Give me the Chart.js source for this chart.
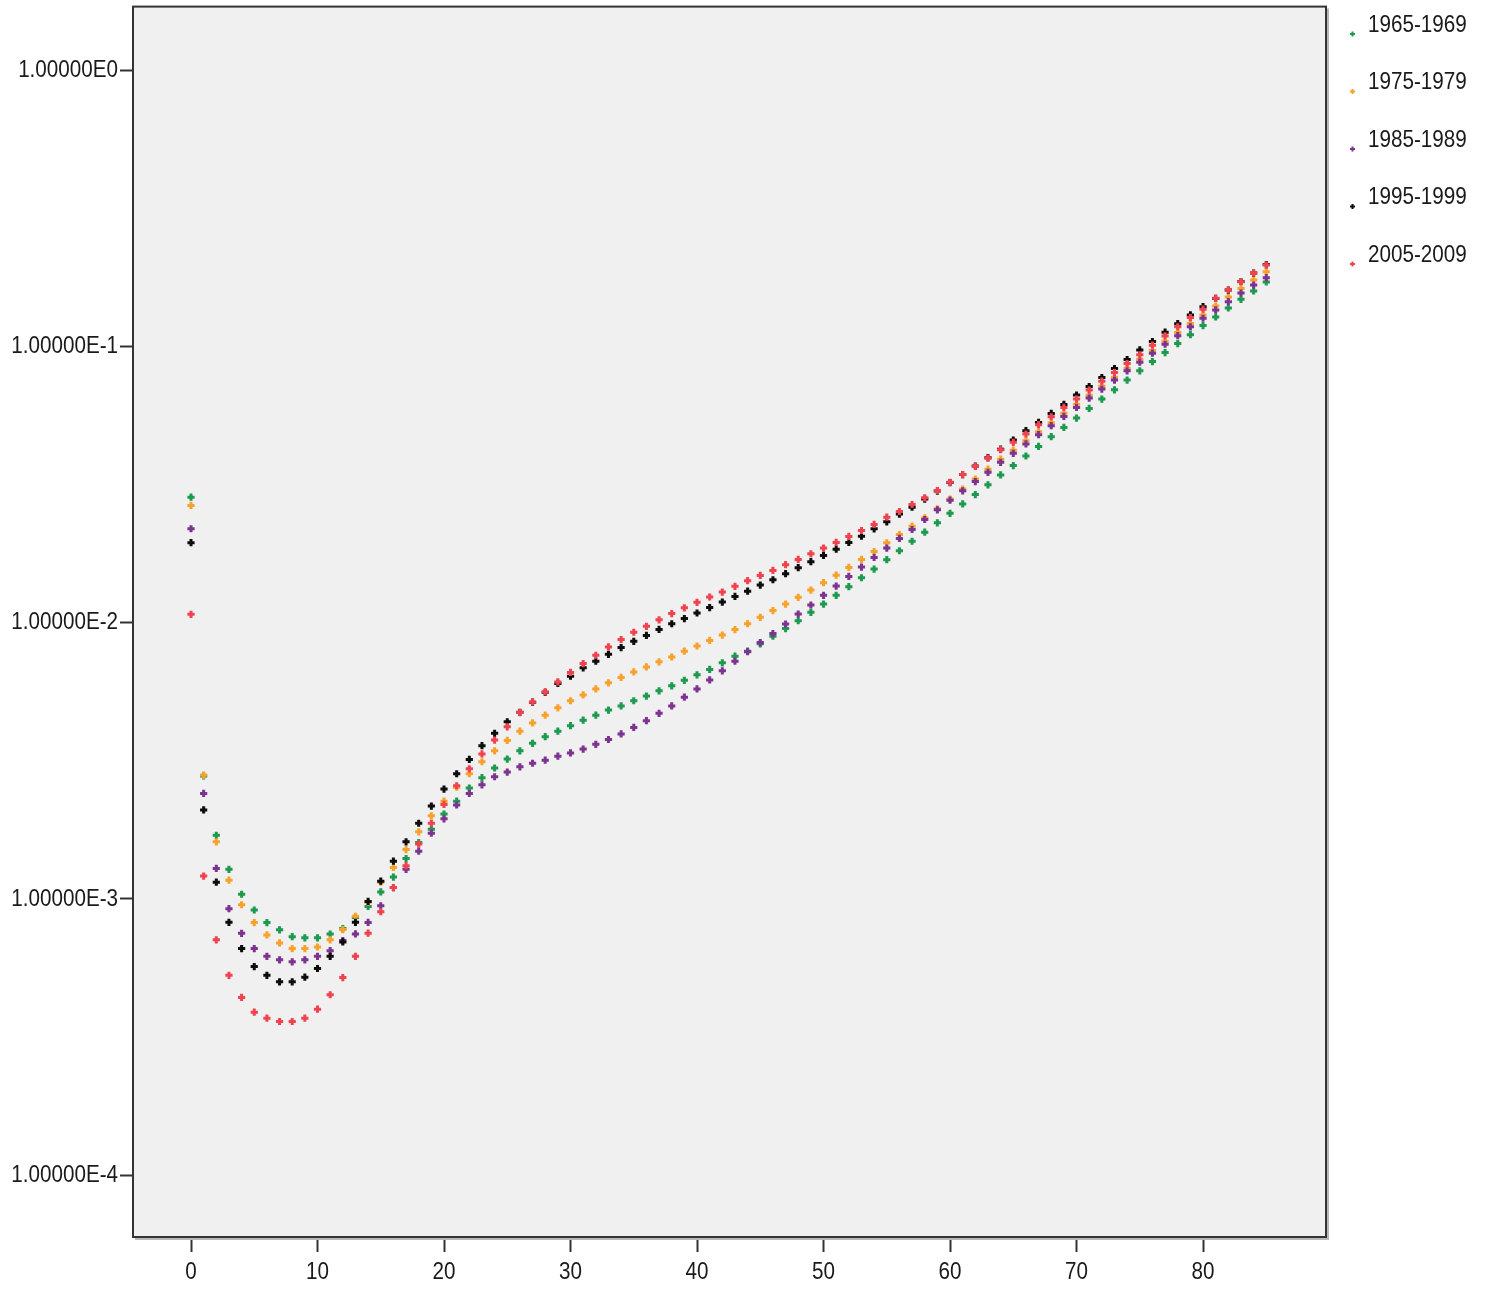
<!DOCTYPE html>
<html>
<head>
<meta charset="utf-8">
<script src="https://cdn.jsdelivr.net/npm/chart.js@4.4.1/dist/chart.umd.min.js"></script>
<style>
  html, body { margin: 0; padding: 0; background: #ffffff; }
  #wrap { width: 1487px; height: 1290px; }
</style>
</head>
<body>
<div id="wrap"><canvas id="rateChart" width="1487" height="1290"></canvas></div>
<script>
// age at x, rate on a log scale, one array per period
const ages = [
    0, 1, 2, 3, 4, 5, 6, 7, 8, 9,
    10, 11, 12, 13, 14, 15, 16, 17, 18, 19,
    20, 21, 22, 23, 24, 25, 26, 27, 28, 29,
    30, 31, 32, 33, 34, 35, 36, 37, 38, 39,
    40, 41, 42, 43, 44, 45, 46, 47, 48, 49,
    50, 51, 52, 53, 54, 55, 56, 57, 58, 59,
    60, 61, 62, 63, 64, 65, 66, 67, 68, 69,
    70, 71, 72, 73, 74, 75, 76, 77, 78, 79,
    80, 81, 82, 83, 84, 85
];

const periods = ['1965-1969', '1975-1979', '1985-1989', '1995-1999', '2005-2009'];

const rates1965 = [
    0.0285, 0.00279, 0.00170, 0.00128, 0.00104, 0.000912, 0.000821, 0.000773, 0.000730, 0.000723,
    0.000723, 0.000746, 0.000781, 0.000856, 0.000940, 0.00106, 0.00120, 0.00140, 0.00160, 0.00179,
    0.00203, 0.00226, 0.00252, 0.00275, 0.00298, 0.00321, 0.00344, 0.00366, 0.00387, 0.00405,
    0.00424, 0.00444, 0.00463, 0.00483, 0.00500, 0.00522, 0.00543, 0.00567, 0.00591, 0.00619,
    0.00648, 0.00678, 0.00716, 0.00757, 0.00789, 0.00839, 0.00894, 0.00953, 0.01018, 0.01091,
    0.01169, 0.01257, 0.01351, 0.01456, 0.01565, 0.01692, 0.01823, 0.01974, 0.02128, 0.02301,
    0.02492, 0.02695, 0.02912, 0.03160, 0.03431, 0.03708, 0.04018, 0.04353, 0.04719, 0.05099,
    0.05513, 0.05972, 0.06458, 0.06978, 0.07564, 0.08175, 0.08831, 0.09517, 0.1026, 0.1105,
    0.1192, 0.1281, 0.1380, 0.1484, 0.1590, 0.1714
];

const rates1975 = [
    0.0266, 0.00281, 0.00161, 0.00117, 0.000953, 0.000821, 0.000741, 0.000693, 0.000661, 0.000661,
    0.000670, 0.000711, 0.000775, 0.000865, 0.000973, 0.00115, 0.00130, 0.00151, 0.00175, 0.00200,
    0.00226, 0.00254, 0.00284, 0.00314, 0.00344, 0.00375, 0.00405, 0.00434, 0.00463, 0.00492,
    0.00522, 0.00548, 0.00576, 0.00606, 0.00634, 0.00664, 0.00692, 0.00722, 0.00752, 0.00789,
    0.00824, 0.00863, 0.00903, 0.00945, 0.00993, 0.01047, 0.01107, 0.01169, 0.01237, 0.01314,
    0.01397, 0.01488, 0.01587, 0.01696, 0.01812, 0.01949, 0.02088, 0.02238, 0.02400, 0.02586,
    0.02805, 0.03050, 0.03314, 0.03600, 0.03913, 0.04218, 0.04564, 0.04919, 0.05302, 0.05737,
    0.06184, 0.06665, 0.07185, 0.07745, 0.08345, 0.08993, 0.09692, 0.1045, 0.1126, 0.1213,
    0.1302, 0.1403, 0.1513, 0.1623, 0.1742, 0.1867
];

const rates1985 = [
    0.0219, 0.00241, 0.00129, 0.000922, 0.000751, 0.000661, 0.000620, 0.000602, 0.000592, 0.000602,
    0.000620, 0.000650, 0.000707, 0.000747, 0.000822, 0.000945, 0.00110, 0.00128, 0.00149, 0.00173,
    0.00195, 0.00219, 0.00241, 0.00259, 0.00277, 0.00288, 0.00301, 0.00310, 0.00318, 0.00329,
    0.00338, 0.00349, 0.00363, 0.00378, 0.00396, 0.00418, 0.00442, 0.00470, 0.00500, 0.00538,
    0.00576, 0.00621, 0.00670, 0.00726, 0.00786, 0.00848, 0.00914, 0.00990, 0.01076, 0.01160,
    0.01257, 0.01358, 0.01472, 0.01591, 0.01725, 0.01864, 0.02020, 0.02177, 0.02366, 0.02565,
    0.02780, 0.03004, 0.03246, 0.03507, 0.03811, 0.04108, 0.04442, 0.04799, 0.05172, 0.05587,
    0.06023, 0.06512, 0.07018, 0.07564, 0.08175, 0.08787, 0.09470, 0.1020, 0.1096, 0.1179,
    0.1267, 0.1358, 0.1455, 0.1564, 0.1671, 0.1777
];

const rates1995 = [
    0.0195, 0.00210, 0.00115, 0.000823, 0.000661, 0.000569, 0.000529, 0.000501, 0.000501, 0.000521,
    0.000560, 0.000620, 0.000699, 0.000823, 0.000980, 0.00116, 0.00137, 0.00161, 0.00188, 0.00217,
    0.00250, 0.00284, 0.00320, 0.00359, 0.00398, 0.00438, 0.00474, 0.00516, 0.00560, 0.00603,
    0.00641, 0.00687, 0.00726, 0.00769, 0.00813, 0.00857, 0.00900, 0.00946, 0.00992, 0.01036,
    0.01085, 0.01135, 0.01189, 0.01246, 0.01302, 0.01369, 0.01432, 0.01506, 0.01583, 0.01664,
    0.01753, 0.01848, 0.01954, 0.02059, 0.02189, 0.02320, 0.02476, 0.02621, 0.02805, 0.02998,
    0.03218, 0.03440, 0.03693, 0.03963, 0.04253, 0.04591, 0.04961, 0.05316, 0.05728, 0.06174,
    0.06677, 0.07172, 0.07731, 0.08331, 0.08979, 0.09732, 0.1043, 0.1128, 0.1211, 0.1302,
    0.1395, 0.1494, 0.1603, 0.1721, 0.1847, 0.1982
];

const rates2005 = [
    0.01073, 0.00121, 0.000711, 0.000529, 0.000440, 0.000389, 0.000370, 0.000360, 0.000360, 0.000370,
    0.000399, 0.000450, 0.000519, 0.000620, 0.000752, 0.000899, 0.00110, 0.00132, 0.00158, 0.00188,
    0.00220, 0.00257, 0.00296, 0.00335, 0.00376, 0.00420, 0.00473, 0.00517, 0.00562, 0.00611,
    0.00661, 0.00712, 0.00763, 0.00818, 0.00870, 0.00924, 0.00971, 0.01025, 0.01080, 0.01133,
    0.01186, 0.01240, 0.01292, 0.01355, 0.01421, 0.01484, 0.01548, 0.01623, 0.01696, 0.01778,
    0.01864, 0.01954, 0.02054, 0.02159, 0.02270, 0.02412, 0.02529, 0.02681, 0.02834, 0.03011,
    0.03226, 0.03440, 0.03683, 0.03947, 0.04235, 0.04501, 0.04827, 0.05215, 0.05573, 0.06023,
    0.06458, 0.06961, 0.07500, 0.08060, 0.08685, 0.09337, 0.1012, 0.1093, 0.1179, 0.1274,
    0.1366, 0.1496, 0.1607, 0.1718, 0.1847, 0.1974
];

const xTicks = [0, 10, 20, 30, 40, 50, 60, 70, 80];
const yTicks = [1e-4, 1e-3, 1e-2, 1e-1, 1];

const seriesColors = ['#1c9a50', '#f8a22c', '#7d3390', '#0d0d0d', '#f0434f'];
const seriesValues = [rates1965, rates1975, rates1985, rates1995, rates2005];

const LABEL_FONT = '24px "Liberation Sans", Arial, sans-serif';
const SQUEEZE = 0.86;

function formatSci(v) {
    return '1.00000E' + Math.round(Math.log10(v));
}

function squeezedText(ctx, text, x, y, align) {
    ctx.save();
    ctx.translate(x, y);
    ctx.scale(SQUEEZE, 1);
    ctx.textAlign = align;
    ctx.textBaseline = 'middle';
    ctx.fillText(text, 0, 0);
    ctx.restore();
}

// grey plot panel behind the points, frame and texts on top
const panelPlugin = {
    id: 'panel',
    beforeDatasetsDraw(chart) {
        const { ctx, chartArea: a } = chart;
        ctx.save();
        ctx.fillStyle = '#f0f0f0';
        ctx.fillRect(a.left, a.top, a.right - a.left, a.bottom - a.top);
        ctx.restore();
    },
    afterDraw(chart) {
        const { ctx, chartArea: a } = chart;
        ctx.save();
        // soft shadow right and below
        ctx.strokeStyle = '#b8b8b8';
        ctx.lineWidth = 2;
        ctx.beginPath();
        ctx.moveTo(a.left + 2, a.bottom + 2);
        ctx.lineTo(a.right + 2, a.bottom + 2);
        ctx.lineTo(a.right + 2, a.top + 2);
        ctx.stroke();
        ctx.strokeStyle = '#333333';
        ctx.lineWidth = 2;
        ctx.strokeRect(a.left, a.top, a.right - a.left, a.bottom - a.top);

        ctx.fillStyle = '#1a1a1a';
        ctx.font = LABEL_FONT;
        const ys = chart.scales.y;
        ys.ticks.forEach(t => {
            squeezedText(ctx, formatSci(t.value), a.left - 15, ys.getPixelForValue(t.value), 'right');
        });
        const xs = chart.scales.x;
        xs.ticks.forEach(t => {
            squeezedText(ctx, String(t.value), xs.getPixelForValue(t.value), a.bottom + 35, 'center');
        });

        // legend
        periods.forEach((label, i) => {
            const my = 34 + i * 57.5;
            ctx.fillStyle = seriesColors[i];
            ctx.fillRect(1350, my - 1, 5, 2);
            ctx.fillRect(1351.5, my - 2.5, 2, 5);
            ctx.fillStyle = '#1a1a1a';
            squeezedText(ctx, label, 1368, my - 9, 'left');
        });
        ctx.restore();
    }
};

const datasets = periods.map((label, i) => ({
    label: label,
    data: ages.map((age, j) => ({ x: age, y: seriesValues[i][j] })),
    pointStyle: 'cross',
    pointRadius: 3.6,
    pointHoverRadius: 3.6,
    borderWidth: 3,
    borderColor: seriesColors[i],
    backgroundColor: seriesColors[i],
    showLine: false,
    order: periods.length - i
}));

const ctx = document.getElementById('rateChart').getContext('2d');
window.rateChart = new Chart(ctx, {
    type: 'scatter',
    data: { datasets: datasets },
    plugins: [panelPlugin],
    options: {
        responsive: false,
        animation: false,
        devicePixelRatio: 1,
        layout: { padding: { top: 5, right: 161, left: 0, bottom: 0 } },
        plugins: {
            legend: { display: false },
            tooltip: { enabled: false }
        },
        scales: {
            x: {
                type: 'linear',
                min: -4.585,
                max: 89.72,
                afterBuildTicks: scale => { scale.ticks = xTicks.map(v => ({ value: v })); },
                afterFit: scale => { scale.height = 53; },
                ticks: { display: false },
                border: { display: false },
                grid: {
                    display: true,
                    drawOnChartArea: false,
                    drawTicks: true,
                    tickLength: 15,
                    tickColor: '#333333',
                    tickWidth: 2
                }
            },
            y: {
                type: 'logarithmic',
                min: 5.97e-5,
                max: 1.703,
                afterBuildTicks: scale => { scale.ticks = yTicks.map(v => ({ value: v })); },
                afterFit: scale => { scale.width = 133; },
                ticks: { display: false },
                border: { display: false },
                grid: {
                    display: true,
                    drawOnChartArea: false,
                    drawTicks: true,
                    tickLength: 13,
                    tickColor: '#333333',
                    tickWidth: 2
                }
            }
        }
    }
});
</script>
</body>
</html>
